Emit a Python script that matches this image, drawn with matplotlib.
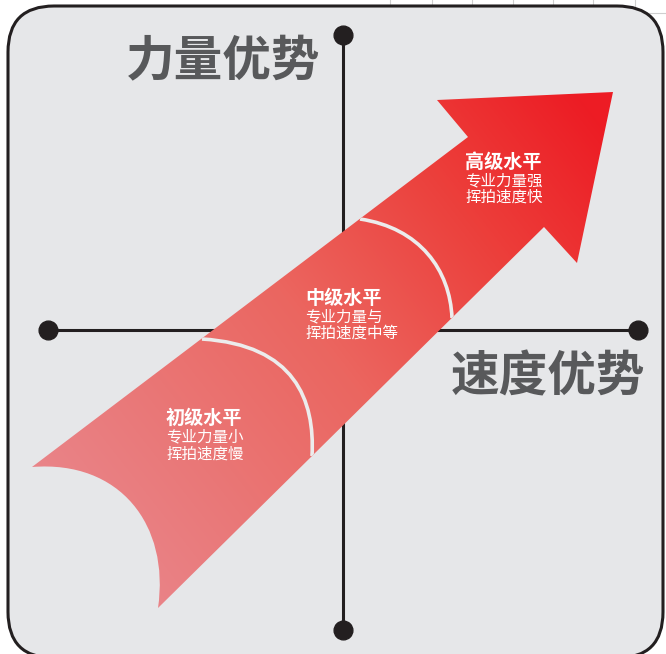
import numpy as np
import matplotlib
matplotlib.use('Agg')
import matplotlib.pyplot as plt
from matplotlib.path import Path
from matplotlib.patches import PathPatch, FancyBboxPatch
from matplotlib.colors import LinearSegmentedColormap

plt.rcParams['font.family'] = ['Noto Sans CJK SC', 'DejaVu Sans']

# Texts
axis_labels = ['力量优势', '速度优势']
level_titles = ['初级水平', '中级水平', '高级水平']
level_lines = [['专业力量小', '挥拍速度慢'],
               ['专业力量与', '挥拍速度中等'],
               ['专业力量强', '挥拍速度快']]

# Layout (pixel coordinates, y downwards)
W, H = 666, 654
title_pos = [(166, 418), (305, 298), (465, 162)]
line_gap = [17, 16, 16]
axis_label_pos = [(223, 62), (548, 377)]

fig = plt.figure(figsize=(W / 100, H / 100), dpi=100)
ax = fig.add_axes([0, 0, 1, 1])
ax.set_xlim(0, W)
ax.set_ylim(H, 0)
ax.axis('off')
fig.patch.set_facecolor('white')

# spreadsheet grid peeking out above the card
for gx in [390, 432, 472, 513, 553, 593, 635]:
    ax.plot([gx, gx], [0, 14], color='#cfcfcf', lw=0.8, zorder=0)
ax.plot([635, W], [13, 13], color='#cfcfcf', lw=0.8, zorder=0)

# rounded card
card = FancyBboxPatch((8, 6), 655, 652, boxstyle='round,pad=0,rounding_size=46',
                      facecolor='#e6e7e9', edgecolor='#231f20', lw=2.2, zorder=1)
ax.add_patch(card)

# axes cross with dots
ax.plot([343, 343], [35, 630], color='#231f20', lw=2.2, zorder=2)
ax.plot([48, 638], [330, 330], color='#231f20', lw=2.2, zorder=2)
ax.plot([343, 343, 48, 638], [35, 630, 330, 330], 'o', color='#231f20',
        ms=13.5, zorder=2)

# arrow outline
verts = [(32, 467), (468, 137), (437, 100), (613, 92), (577, 263), (544, 227),
         (158, 608), (170, 525), (120, 460), (32, 467)]
codes = [Path.MOVETO, Path.LINETO, Path.LINETO, Path.LINETO, Path.LINETO,
         Path.LINETO, Path.LINETO, Path.CURVE4, Path.CURVE4, Path.CURVE4]
arrow = PathPatch(Path(verts, codes), facecolor='none', edgecolor='none', zorder=3)
ax.add_patch(arrow)

cmap = LinearSegmentedColormap.from_list(
    'arr', [(0, '#e98387'), (0.45, '#eb6660'), (0.75, '#ec3f3b'), (1, '#ed1c24')])
xx, yy = np.meshgrid(np.arange(W) + 0.5, np.arange(H) + 0.5)
p0 = np.array([90, 520])
p1 = np.array([600, 120])
d = p1 - p0
t = ((xx - p0[0]) * d[0] + (yy - p0[1]) * d[1]) / (d @ d)
img = ax.imshow(np.clip(t, 0, 1), cmap=cmap, extent=(0, W, H, 0),
                origin='upper', zorder=3, interpolation='bilinear')
img.set_clip_path(arrow)

# white dividers between the levels
for v in [[(202, 339), (295, 345), (315, 400), (312, 456)],
          [(360, 219), (420, 228), (450, 270), (452, 318)]]:
    div = PathPatch(Path(v, [Path.MOVETO, Path.CURVE4, Path.CURVE4, Path.CURVE4]),
                    facecolor='none', edgecolor='#ececec', lw=2.6, zorder=4)
    ax.add_patch(div)
    div.set_clip_path(arrow)

# level texts
for (x, y), title, lines, g in zip(title_pos, level_titles, level_lines, line_gap):
    ax.text(x, y, title, color='white', fontsize=13.8, fontweight='bold',
            ha='left', va='center', zorder=5)
    for i, s in enumerate(lines):
        ax.text(x, y + 19 + i * g, s, color='white', fontsize=11.2,
                ha='left', va='center', zorder=5)

# axis labels
for (x, y), s in zip(axis_label_pos, axis_labels):
    ax.text(x, y, s, color='#58595b', fontsize=35, fontweight='bold',
            ha='center', va='center', zorder=5)

fig.savefig('out.png', dpi=100)
